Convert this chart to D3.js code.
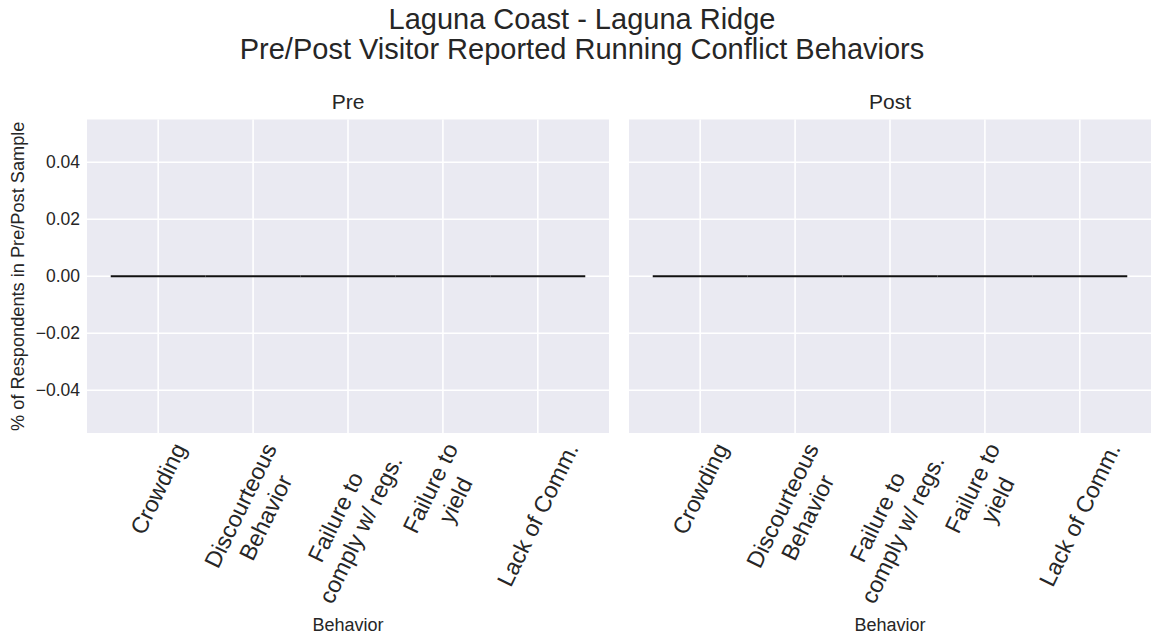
<!DOCTYPE html>
<html>
<head>
<meta charset="utf-8">
<script src="https://cdn.jsdelivr.net/npm/d3@7"></script>
<style>
  body { margin: 0; background: #fff; }
  svg { display: block; font-family: "Liberation Sans", Arial, sans-serif; }
  text { fill: #262626; }
</style>
</head>
<body>
<div id="chart"></div>
<script>
// data: every share is zero
var behaviors = ["Crowding", "Discourteous\nBehavior", "Failure to\ncomply w/ regs.", "Failure to\nyield", "Lack of Comm."];
var facets = ["Pre", "Post"];
var preValues = [0, 0, 0, 0, 0];
var postValues = [0, 0, 0, 0, 0];
var yTicks = [-0.04, -0.02, 0.00, 0.02, 0.04];
var titleLines = ["Laguna Coast - Laguna Ridge", "Pre/Post Visitor Reported Running Conflict Behaviors"];

var W = 1152, H = 637;
var panelW = 522, panelTop = 119.5, panelBottom = 433;
var panelLeft = [87, 629];
var angle = 64;

var svg = d3.select("#chart").append("svg")
    .attr("width", W)
    .attr("height", H);

// suptitle
svg.append("text")
    .attr("x", 582)
    .attr("text-anchor", "middle")
    .style("font-size", "29px")
    .selectAll("tspan")
    .data(titleLines)
    .enter().append("tspan")
    .attr("x", 582)
    .attr("y", function(d, i) { return 29 + i * 30; })
    .text(function(d) { return d; });

var y = d3.scaleLinear()
    .domain([-0.055, 0.055])
    .range([panelBottom, panelTop]);

var x = d3.scaleLinear()
    .domain([-0.75, behaviors.length - 0.25])
    .range([0, panelW]);

var seriesValues = [preValues, postValues];

facets.forEach(function(name, f) {
    var g = svg.append("g")
        .attr("transform", "translate(" + panelLeft[f] + ",0)");

    g.append("rect")
        .attr("x", 0)
        .attr("y", panelTop)
        .attr("width", panelW)
        .attr("height", panelBottom - panelTop)
        .attr("fill", "#EAEAF2");

    // grid
    g.selectAll(".hgrid")
        .data(yTicks)
        .enter().append("line")
        .attr("class", "hgrid")
        .attr("x1", 0).attr("x2", panelW)
        .attr("y1", function(d) { return y(d); })
        .attr("y2", function(d) { return y(d); })
        .attr("stroke", "#fff")
        .attr("stroke-width", 1.6);

    g.selectAll(".vgrid")
        .data(behaviors)
        .enter().append("line")
        .attr("class", "vgrid")
        .attr("x1", function(d, i) { return x(i); })
        .attr("x2", function(d, i) { return x(i); })
        .attr("y1", panelTop).attr("y2", panelBottom)
        .attr("stroke", "#fff")
        .attr("stroke-width", 1.6);

    // bars (zero height -> outline only)
    g.selectAll(".bar")
        .data(seriesValues[f])
        .enter().append("path")
        .attr("class", "bar")
        .attr("d", function(d, i) {
            var x0 = x(i - 0.5), x1 = x(i + 0.5);
            return "M" + x0 + "," + y(0) + "H" + x1 + "V" + y(d) + "H" + x0 + "Z";
        })
        .attr("fill", "#4c72b0")
        .attr("stroke", "#111")
        .attr("stroke-width", 2);

    // y axis only on first facet
    if (f === 0) {
        var yAxis = d3.axisLeft(y)
            .tickValues(yTicks)
            .tickSize(0)
            .tickPadding(7)
            .tickFormat(d3.format(".2f"));
        var ya = g.append("g").call(yAxis);
        ya.select(".domain").remove();
        ya.selectAll("text")
            .style("font-size", "17.5px")
            .attr("fill", "#262626")
            .attr("font-family", null);
    }

    // x tick labels, rotated and centred like matplotlib
    behaviors.forEach(function(label, i) {
        var t = g.append("text")
            .attr("text-anchor", "middle")
            .style("font-size", "23.2px")
            .attr("transform", "rotate(" + (-angle) + ")");
        var lines = label.split("\n");
        lines.forEach(function(line, k) {
            t.append("tspan")
                .attr("x", 0)
                .attr("dy", k === 0 ? 0 : "1.2em")
                .text(line);
        });
        var box = t.node().getBoundingClientRect();
        var cx = panelLeft[f] + x(i);
        var dx = cx - (box.left + box.width / 2);
        var dy = 439 - box.top;
        t.attr("transform", "translate(" + dx + "," + dy + ") rotate(" + (-angle) + ")");
    });

    // facet title
    g.append("text")
        .attr("x", panelW / 2)
        .attr("y", 109)
        .attr("text-anchor", "middle")
        .style("font-size", "21px")
        .text(name);

    // x label
    g.append("text")
        .attr("x", x(2))
        .attr("y", 631)
        .attr("text-anchor", "middle")
        .style("font-size", "18px")
        .text("Behavior");
});

// y label
svg.append("text")
    .attr("transform", "translate(24," + ((panelTop + panelBottom) / 2) + ") rotate(-90)")
    .attr("text-anchor", "middle")
    .style("font-size", "18.2px")
    .text("% of Respondents in Pre/Post Sample");
</script>
</body>
</html>
